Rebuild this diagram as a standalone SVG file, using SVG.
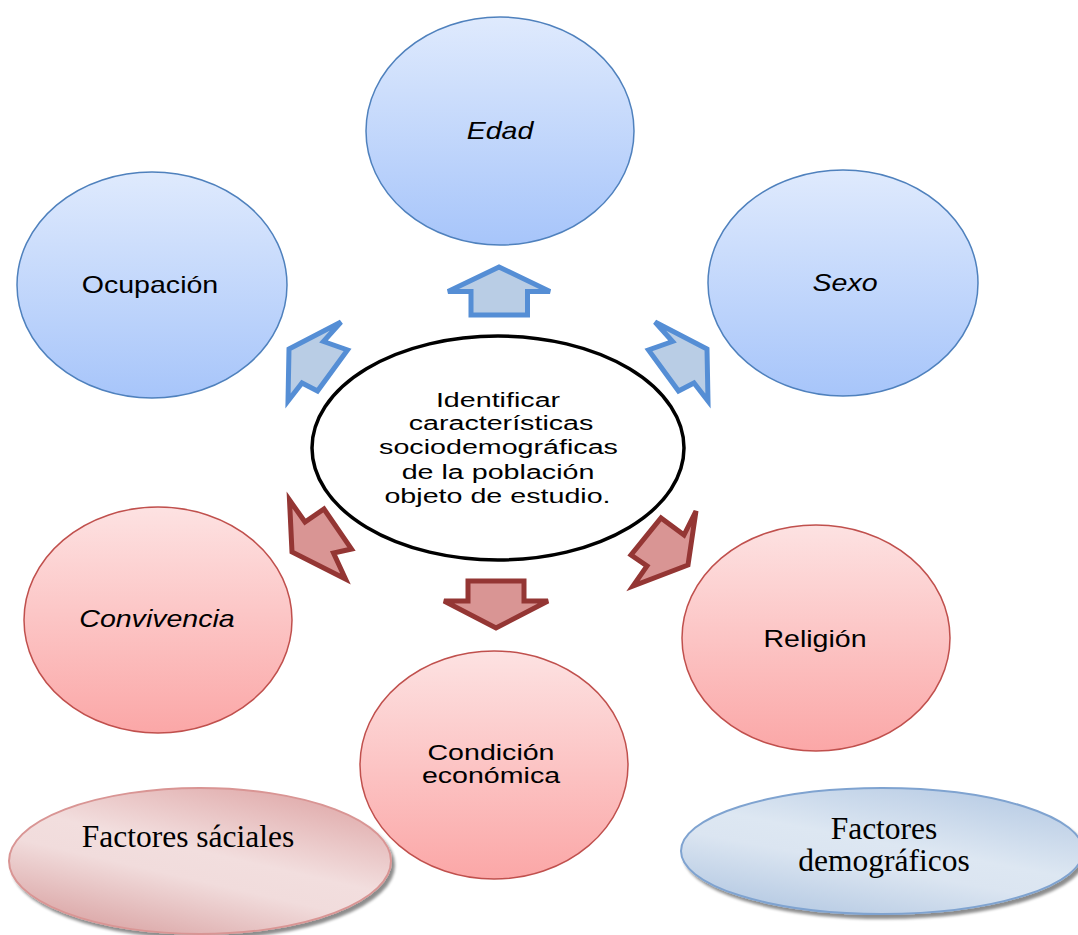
<svg xmlns="http://www.w3.org/2000/svg" width="1078" height="935" viewBox="0 0 1078 935">
<defs>
<linearGradient id="gBlue" x1="0" y1="0" x2="0" y2="1">
<stop offset="0" stop-color="#dfeafd"/><stop offset="1" stop-color="#a7c5fa"/>
</linearGradient>
<linearGradient id="gRed" x1="0" y1="0" x2="0" y2="1">
<stop offset="0" stop-color="#fde2e2"/><stop offset="1" stop-color="#fba7a7"/>
</linearGradient>
<linearGradient id="gPink" x1="0.8" y1="0" x2="0.2" y2="1">
<stop offset="0" stop-color="#dfa8a8"/><stop offset="0.45" stop-color="#f2dede"/><stop offset="0.6" stop-color="#f1dcdc"/><stop offset="1" stop-color="#d9a2a2"/>
</linearGradient>
<linearGradient id="gLBlue" x1="0.8" y1="0" x2="0.2" y2="1">
<stop offset="0" stop-color="#b7cbe4"/><stop offset="0.45" stop-color="#dde7f2"/><stop offset="0.6" stop-color="#dbe5f1"/><stop offset="1" stop-color="#b3c8e2"/>
</linearGradient>
<filter id="sh" x="-10%" y="-10%" width="120%" height="130%">
<feGaussianBlur in="SourceAlpha" stdDeviation="1.5"/>
<feOffset dx="3" dy="4" result="b"/>
<feComponentTransfer><feFuncA type="linear" slope="0.45"/></feComponentTransfer>
<feMerge><feMergeNode/><feMergeNode in="SourceGraphic"/></feMerge>
</filter>
</defs>
<style>
.sb{fill:url(#gBlue);stroke:#4f81bd;stroke-width:1.5}
.sr{fill:url(#gRed);stroke:#c0504d;stroke-width:1.5}
.t{font-family:"Liberation Sans",Arial,sans-serif;font-size:24px;fill:#000;text-anchor:middle}
.ti{font-style:italic}
.t2{font-size:22.5px}
.tc{font-family:"Liberation Sans",Arial,sans-serif;font-size:19.5px;fill:#000;text-anchor:middle}
.tt{font-family:"Liberation Serif","Times New Roman",serif;font-size:31.5px;fill:#000;text-anchor:middle}
.ab{fill:#b9cde5;stroke:#558ed5;stroke-width:5;stroke-linejoin:miter}
.ar{fill:#d99594;stroke:#943634;stroke-width:5;stroke-linejoin:miter}
</style>

<g id="legend-social">
<ellipse cx="200" cy="861" rx="191" ry="73" fill="url(#gPink)" stroke="#d99594" stroke-width="2" filter="url(#sh)"/>
<text class="tt" x="188" y="847">Factores sáciales</text>
</g>
<g id="legend-demo">
<ellipse cx="882" cy="851" rx="201" ry="63" fill="url(#gLBlue)" stroke="#7fa3d0" stroke-width="2" filter="url(#sh)"/>
<text class="tt" x="884" y="839">Factores</text>
<text class="tt" x="884" y="871">demográficos</text>
</g>

<g id="edad">
<ellipse class="sb" cx="500" cy="131" rx="134" ry="114"/>
<text class="t ti" transform="translate(500,139) scale(1.19,1)">Edad</text>
</g>
<g id="ocupacion">
<ellipse class="sb" cx="152" cy="285" rx="135" ry="113"/>
<text class="t" transform="translate(150,293) scale(1.19,1)">Ocupación</text>
</g>
<g id="sexo">
<ellipse class="sb" cx="843" cy="283" rx="135" ry="113"/>
<text class="t ti" transform="translate(845,291) scale(1.19,1)">Sexo</text>
</g>
<g id="convivencia">
<ellipse class="sr" cx="158" cy="620" rx="134" ry="113"/>
<text class="t ti" transform="translate(157,627) scale(1.19,1)">Convivencia</text>
</g>
<g id="religion">
<ellipse class="sr" cx="816" cy="638" rx="134" ry="113"/>
<text class="t" transform="translate(815,647) scale(1.19,1)">Religión</text>
</g>
<g id="condicion">
<ellipse class="sr" cx="494" cy="765" rx="134" ry="114"/>
<text class="t t2" transform="translate(491,760) scale(1.27,1)">Condición</text>
<text class="t t2" transform="translate(491,783) scale(1.27,1)">económica</text>
</g>

<g id="center">
<ellipse cx="498" cy="448" rx="186" ry="112" fill="#ffffff" stroke="#000" stroke-width="3.5"/>
<g class="tc">
<text transform="translate(498,406.5) scale(1.47,1)">Identificar</text>
<text transform="translate(501,429.5) scale(1.47,1)">características</text>
<text transform="translate(498.5,454) scale(1.47,1)">sociodemográficas</text>
<text transform="translate(498,479) scale(1.47,1)">de la población</text>
<text transform="translate(497.5,503) scale(1.47,1)">objeto de estudio.</text>
</g>
</g>

<g id="connectors">
<polygon class="ab" points="499,267 550,291.5 527.5,291.5 527.5,315 471,315 471,291.5 448,291.5"/>
<polygon class="ab" points="289,349 341,322 323.5,341.5 347.5,350 317.5,391 302,383 288,401"/>
<polygon class="ab" points="707,349 655,322 672.5,341.5 648.5,350 678.5,391 694,383 708,401"/>
<polygon class="ar" points="468,581 524,581 524,601 548,601 496,628 444,601 468,601"/>
<polygon class="ar" points="292,552 289.5,500 305,522 324,509 351.5,549 333.5,553 345.5,579"/>
<polygon class="ar" points="688,565 696,511 684,535 661,518 631,555 647,566 633,586"/>
</g>
</svg>
